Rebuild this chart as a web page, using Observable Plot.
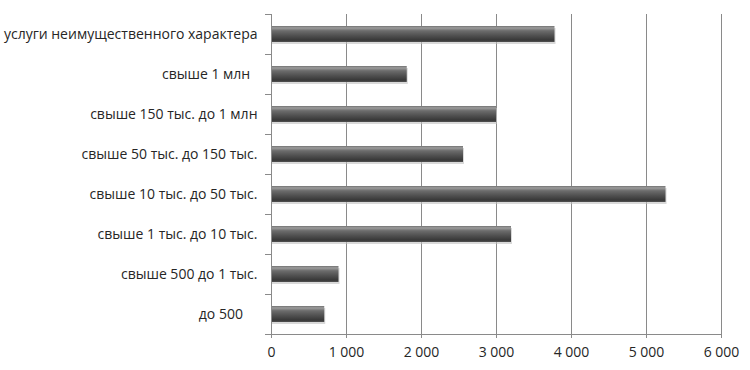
<!DOCTYPE html>
<html><head><meta charset="utf-8">
<script src="https://cdn.jsdelivr.net/npm/d3@7"></script>
<script src="https://cdn.jsdelivr.net/npm/@observablehq/plot@0.6"></script>
<style>body{margin:0;background:#fff}</style>
</head><body><div id="chart"></div>
<script>
const categories = [
  "услуги неимущественного характера",
  "свыше 1 млн\u00a0\u00a0",
  "свыше 150 тыс. до 1 млн",
  "свыше 50 тыс. до 150 тыс.",
  "свыше 10 тыс. до 50 тыс.",
  "свыше 1 тыс. до 10 тыс.",
  "свыше 500 до 1 тыс.",
  "до 500\u00a0\u00a0\u00a0\u00a0"
];
const values = [3780, 1810, 3000, 2560, 5260, 3200, 900, 710];
const xTicks = [0, 1000, 2000, 3000, 4000, 5000, 6000];

const data = categories.map((c, i) => ({category: c, value: values[i]}));
const fmt = d => d3.format(",")(d).replace(/,/g, " ");
const lineColor = "#8a8a8a";

const plot = Plot.plot({
  width: 750, height: 370,
  marginLeft: 271, marginRight: 29, marginTop: 14, marginBottom: 36,
  style: {fontFamily: "Open Sans", fontSize: "14px", color: "#262626", background: "#fff"},
  x: {domain: [0, 6000], label: null},
  y: {domain: categories, paddingInner: 0.6, paddingOuter: 0.3, label: null},
  marks: [
    Plot.gridX(xTicks, {stroke: lineColor, strokeOpacity: 1}),
    Plot.barX(data, {x: "value", y: "category", fill: "#c0c0c0", fillOpacity: 0.6, dx: 1, dy: 2}),
    Plot.barX(data, {x: "value", y: "category", fill: "url(#barGrad)"}),
    Plot.ruleX([0], {stroke: lineColor}),
    Plot.frame({anchor: "bottom", stroke: lineColor}),
    Plot.axisX(xTicks, {tickSize: 4, tickPadding: 9, tickFormat: fmt, stroke: lineColor, fill: "#262626", label: null}),
    Plot.axisY(categories, {tickSize: 6, text: null, dy: -20, stroke: lineColor, label: null}),
    Plot.axisY([categories[categories.length - 1]], {tickSize: 6, text: null, dy: 20, stroke: lineColor, label: null}),
    Plot.axisY(categories, {tickSize: 0, tickPadding: 14, fill: "#262626", label: null})
  ]
});

const defs = d3.select(plot).insert("defs", ":first-child");
const g = defs.append("linearGradient").attr("id", "barGrad").attr("x1", 0).attr("y1", 0).attr("x2", 0).attr("y2", 1);
[[0, "#727272"], [0.12, "#9c9c9c"], [0.3, "#6c6c6c"], [0.6, "#505050"], [0.88, "#383838"], [1, "#525252"]]
  .forEach(([o, c]) => g.append("stop").attr("offset", o).attr("stop-color", c));

document.getElementById("chart").appendChild(plot);
</script>
</body></html>
